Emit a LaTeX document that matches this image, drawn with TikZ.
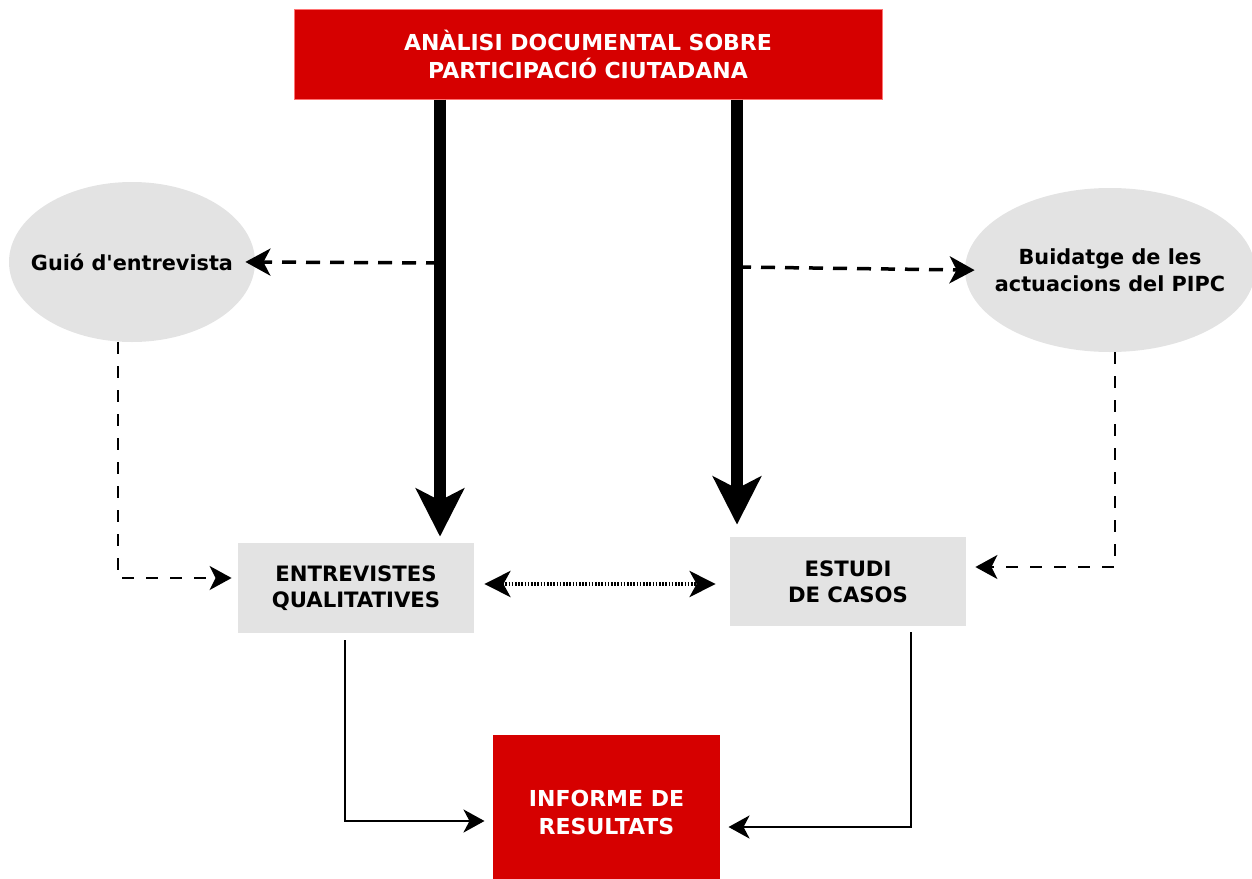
\documentclass[tikz,border=0pt]{standalone}
\usepackage{fontspec}
\setmainfont{DejaVu Sans}
\usetikzlibrary{arrows.meta,shapes.geometric}

\definecolor{redbg}{RGB}{214,0,0}
\definecolor{greybg}{RGB}{227,227,227}

\begin{document}
\begin{tikzpicture}[x=0.5pt,y=-0.5pt,
  redbox/.style={fill=redbg, draw=red!55, line width=0.5pt, text=white, align=center,
    font=\bfseries\fontsize{11}{14}\selectfont, inner sep=0pt},
  greybox/.style={fill=greybg, align=center, inner sep=0pt,
    font=\bfseries\fontsize{10.6}{13}\selectfont},
  greyell/.style={ellipse, fill=greybg, align=center, inner xsep=-10pt, inner ysep=0pt,
    font=\bfseries\fontsize{10.4}{13.5}\selectfont},
  thickarr/.style={line width=6pt, -{Stealth[length=24pt,width=24pt,inset=6pt]}},
  dasharr/.style={line width=1.75pt, dash pattern=on 7pt off 5pt,
    -{Stealth[length=12.5pt,width=13.5pt,inset=3.5pt]}},
  vdasharr/.style={line width=1.2pt, dash pattern=on 6pt off 6pt,
    -{Stealth[length=11pt,width=12pt,inset=3pt]}},
  dotarr/.style={line width=2pt, dash pattern=on 0.8pt off 0.8pt,
    {Stealth[length=13pt,width=13pt,inset=3.5pt]}-{Stealth[length=13pt,width=13pt,inset=3.5pt]}},
  thinarr/.style={line width=1.25pt, -{Stealth[length=10.5pt,width=11.5pt,inset=3pt]}}]

  \useasboundingbox (0,0) rectangle (1252,878);

  % nodes
  \node[redbox, minimum width=294pt, minimum height=45pt] (analisi) at (588,54)
    {ANÀLISI DOCUMENTAL SOBRE\\PARTICIPACIÓ CIUTADANA};
  \node[greyell, minimum width=123pt, minimum height=80pt] (guio) at (132,262)
    {Guió d\textquotesingle entrevista};
  \node[greyell, minimum width=145pt, minimum height=82pt] (buidatge) at (1110,270)
    {Buidatge de les\\actuacions del PIPC};
  \node[greybox, minimum width=118pt, minimum height=45pt] (entrevistes) at (356,588)
    {ENTREVISTES\\QUALITATIVES};
  \node[greybox, minimum width=118pt, minimum height=44.5pt] (estudi) at (848,581.5)
    {ESTUDI\\DE CASOS};
  \node[redbox, draw=none, minimum width=113.5pt, minimum height=77.5pt] (informe) at (606.5,812.5)
    {INFORME DE\\RESULTATS};

  % branch points on the thick lines
  \coordinate (brA) at (440,263);
  \coordinate (brB) at (737,267);

  \draw[thickarr, shorten >=3pt] (analisi.south -| brA) -- (entrevistes.north -| brA);
  \draw[thickarr, shorten >=6pt] (analisi.south -| brB) -- (estudi.north -| brB);

  \draw[dasharr, shorten >=-5pt] (brA) -- (guio.east);
  \draw[dasharr, shorten >=-5pt] (brB) -- (buidatge.west);

  \draw[vdasharr, shorten >=3pt] ([xshift=-7pt]guio.south) |- ([yshift=5pt]entrevistes.west);
  \draw[vdasharr, shorten >=4.5pt] ([xshift=2.5pt]buidatge.south) |- ([yshift=7.25pt]estudi.east);

  \draw[dotarr, shorten <=5pt, shorten >=7pt] ([yshift=2pt]entrevistes.east) -- ([yshift=-1.25pt]estudi.west);

  \draw[thinarr, shorten <=3.5pt, shorten >=4pt] ([xshift=-5.5pt]entrevistes.south) |- ([yshift=-4.25pt]informe.west);
  \draw[thinarr, shorten <=3pt, shorten >=4pt] ([xshift=31.5pt]estudi.south) |- ([yshift=-7.25pt]informe.east);
\end{tikzpicture}
\end{document}
